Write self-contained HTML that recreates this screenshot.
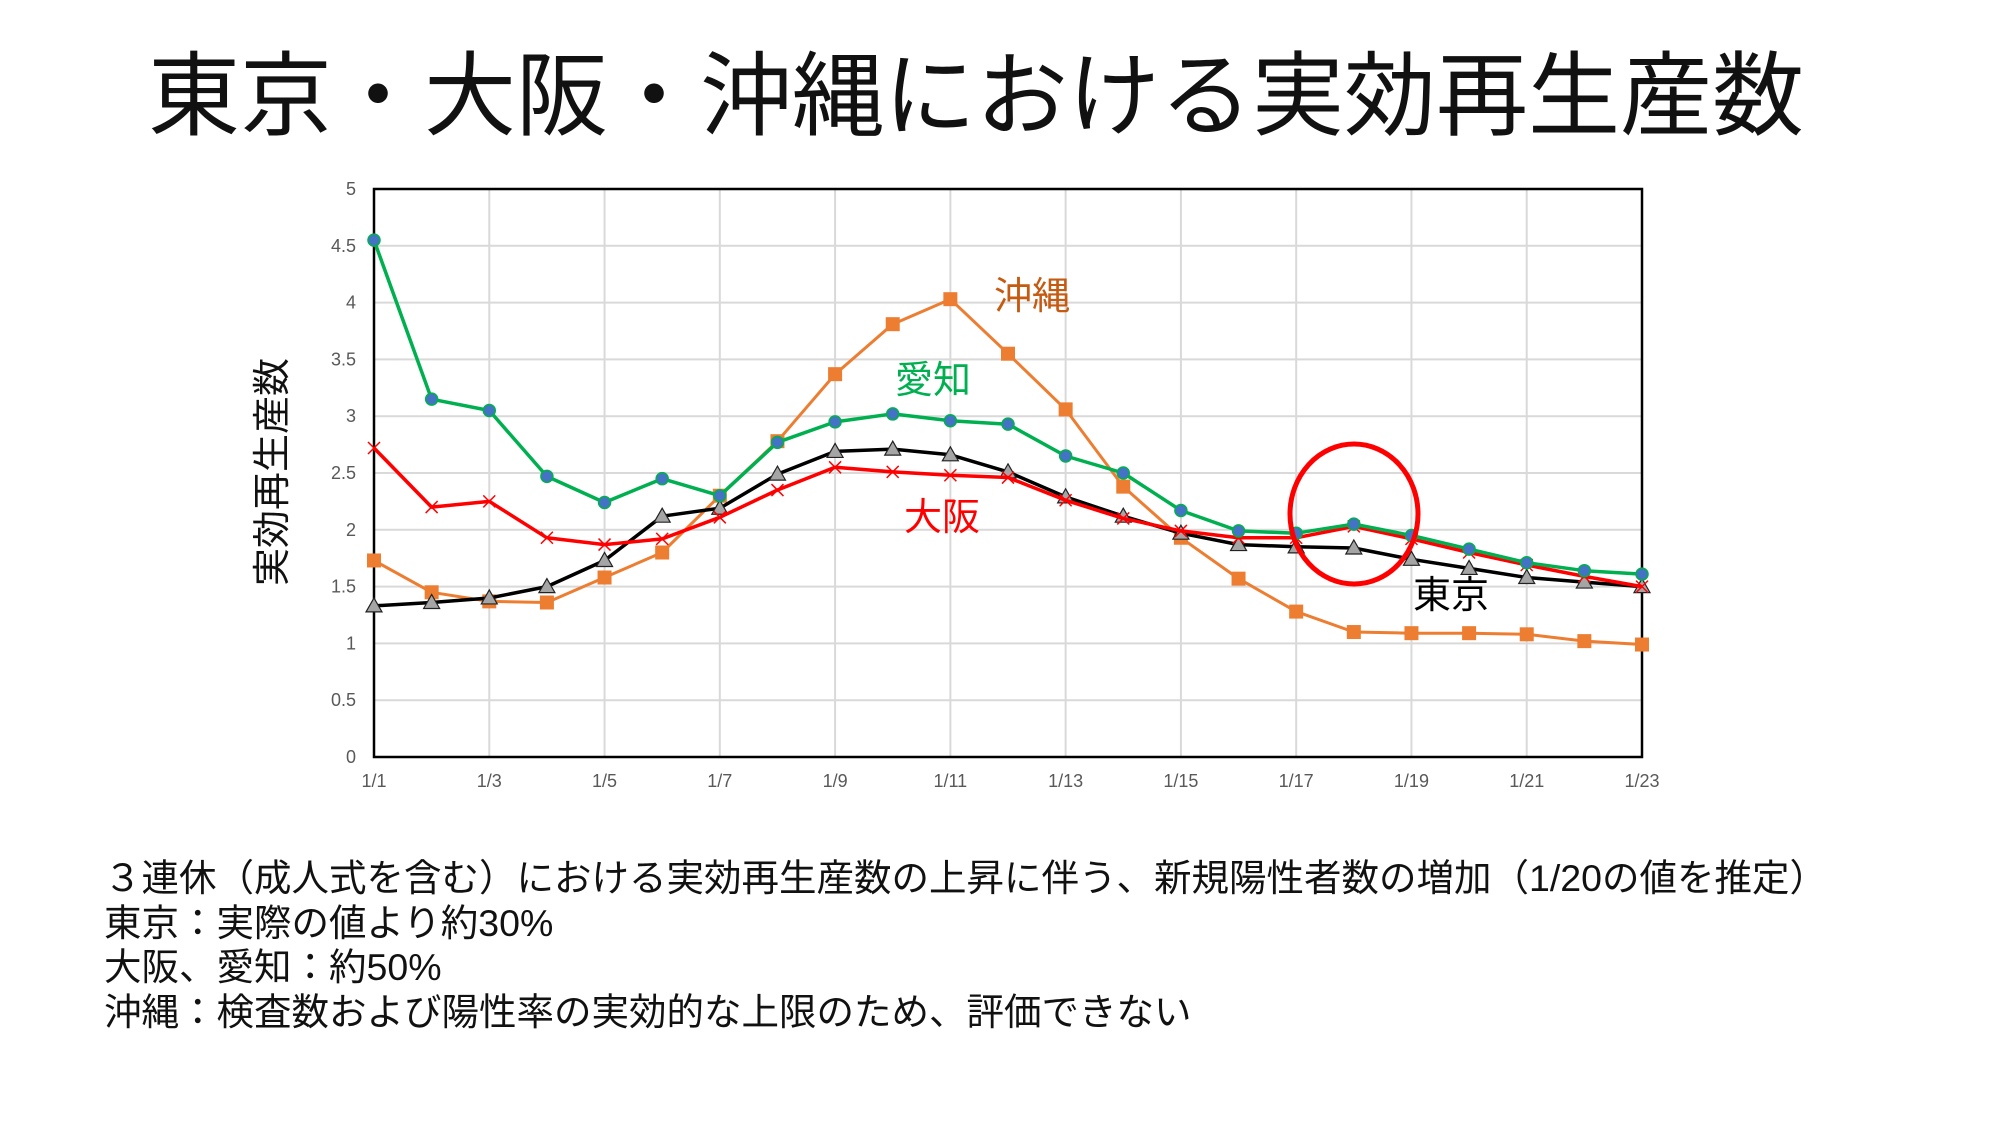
<!DOCTYPE html>
<html><head><meta charset="utf-8">
<style>
html,body{margin:0;padding:0;background:#fff;}
body{width:2000px;height:1125px;overflow:hidden;position:relative;font-family:"Liberation Sans","Noto Sans CJK JP",sans-serif;}
#t{position:absolute;left:0;width:1952px;top:42px;text-align:center;font-size:92px;line-height:110px;color:#111;font-family:"Liberation Sans","Noto Sans CJK JP",sans-serif;}
#b{position:absolute;left:104px;top:856px;font-size:37.5px;line-height:44.7px;color:#111;white-space:nowrap;}
</style></head><body>
<div id="t">東京・大阪・沖縄における実効再生産数</div>
<svg id="s" width="2000" height="1125" style="position:absolute;left:0;top:0"></svg>
<div id="b">３連休（成人式を含む）における実効再生産数の上昇に伴う、新規陽性者数の増加（1/20の値を推定）<br>東京：実際の値より約30%<br>大阪、愛知：約50%<br>沖縄：検査数および陽性率の実効的な上限のため、評価できない</div>
<script>
var x0=374,x1=1642,yb=757,yt=189,n=22;
function X(i){return x0+(x1-x0)*i/n}
function Y(v){return yb-(yb-yt)*v/5}
var h='';
for(var k=1;k<=10;k++){h+='<line x1="'+x0+'" x2="'+x1+'" y1="'+Y(k/2)+'" y2="'+Y(k/2)+'" stroke="#d9d9d9" stroke-width="2"/>';}
for(var i=2;i<=22;i+=2){h+='<line y1="'+yt+'" y2="'+yb+'" x1="'+X(i)+'" x2="'+X(i)+'" stroke="#d9d9d9" stroke-width="2"/>';}
h+='<rect x="'+x0+'" y="'+yt+'" width="'+(x1-x0)+'" height="'+(yb-yt)+'" fill="none" stroke="#000" stroke-width="2.5"/>';
for(var k=0;k<=10;k++){h+='<text x="'+(x0-18)+'" y="'+(Y(k/2)+6)+'" text-anchor="end" font-size="18" fill="#595959" font-family="Liberation Sans,sans-serif">'+(k/2)+'</text>';}
for(var i=0;i<=22;i+=2){h+='<text x="'+X(i)+'" y="'+(yb+30)+'" text-anchor="middle" font-size="18" fill="#595959" font-family="Liberation Sans,sans-serif">1/'+(i+1)+'</text>';}
var aichi=[4.55,3.15,3.05,2.47,2.24,2.45,2.30,2.77,2.95,3.02,2.96,2.93,2.65,2.50,2.17,1.99,1.97,2.05,1.95,1.83,1.71,1.64,1.61];
var oki=[1.73,1.45,1.37,1.36,1.58,1.80,2.30,2.78,3.37,3.81,4.03,3.55,3.06,2.38,1.93,1.57,1.28,1.10,1.09,1.09,1.08,1.02,0.99];
var osaka=[2.72,2.20,2.25,1.93,1.87,1.92,2.11,2.35,2.55,2.51,2.48,2.46,2.26,2.10,1.99,1.93,1.93,2.03,1.92,1.80,1.69,1.59,1.50];
var tokyo=[1.33,1.36,1.40,1.50,1.73,2.12,2.19,2.49,2.69,2.71,2.66,2.51,2.29,2.12,1.97,1.87,1.85,1.84,1.74,1.66,1.58,1.54,1.50];
function line(d,c,w){var p=d.map(function(v,i){return X(i).toFixed(1)+','+Y(v).toFixed(1)}).join(' ');return '<polyline points="'+p+'" fill="none" stroke="'+c+'" stroke-width="'+w+'" stroke-linejoin="round"/>';}
h+=line(oki,'#ed7d31',3);
oki.forEach(function(v,i){h+='<rect x="'+(X(i)-7)+'" y="'+(Y(v)-7)+'" width="14" height="14" fill="#ed7d31"/>';});
h+=line(tokyo,'#000',3.5);
tokyo.forEach(function(v,i){var x=X(i),y=Y(v);h+='<polygon points="'+x+','+(y-8)+' '+(x-8)+','+(y+6)+' '+(x+8)+','+(y+6)+'" fill="#a5a5a5" stroke="#222" stroke-width="1.2"/>';});
h+=line(osaka,'#ff0000',3.5);
osaka.forEach(function(v,i){var x=X(i),y=Y(v);h+='<path d="M'+(x-6)+' '+(y-6)+'L'+(x+6)+' '+(y+6)+'M'+(x+6)+' '+(y-6)+'L'+(x-6)+' '+(y+6)+'" stroke="#ff0000" stroke-width="1.5"/>';});
h+=line(aichi,'#00b050',3.5);
aichi.forEach(function(v,i){h+='<circle cx="'+X(i)+'" cy="'+Y(v)+'" r="6" fill="#4472c4" stroke="#00b050" stroke-width="1.5"/>';});
h+='<ellipse cx="1354" cy="514" rx="64" ry="70" fill="none" stroke="#ff0000" stroke-width="5"/>';
var f='font-family="Liberation Sans,Noto Sans CJK JP,sans-serif" font-size="38"';
h+='<text x="1032" y="309" text-anchor="middle" '+f+' fill="#c55a11">沖縄</text>';
h+='<text x="933" y="393" text-anchor="middle" '+f+' fill="#00b050">愛知</text>';
h+='<text x="942" y="530" text-anchor="middle" '+f+' fill="#ff0000">大阪</text>';
h+='<text x="1451" y="608" text-anchor="middle" '+f+' fill="#000">東京</text>';
h+='<text transform="translate(285,472) rotate(-90)" text-anchor="middle" font-family="Liberation Sans,Noto Sans CJK JP,sans-serif" font-size="38" fill="#111">実効再生産数</text>';
document.getElementById('s').innerHTML=h;
</script>
</body></html>
